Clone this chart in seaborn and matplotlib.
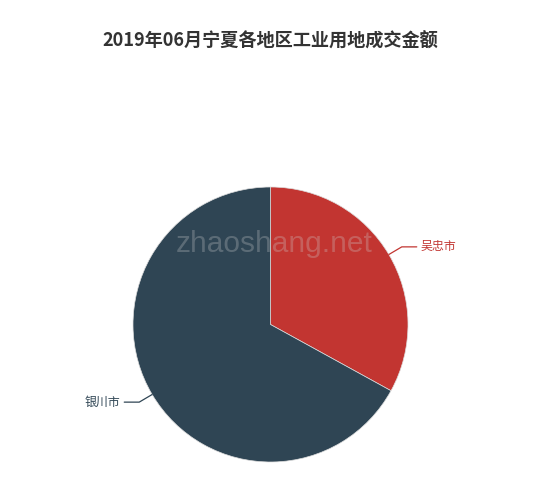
import numpy as np
import matplotlib
matplotlib.use('Agg')
import matplotlib.pyplot as plt
import seaborn as sns

sns.set_theme(style='white')
plt.rcParams['font.family'] = ['Noto Sans CJK SC', 'DejaVu Sans']

title = '2019年06月宁夏各地区工业用地成交金额'
regions = ['吴忠市', '银川市']
amounts = [33.0, 67.0]
colors = ['#c23531', '#2f4554']

W, H = 550, 490
fig = plt.figure(figsize=(5.5, 4.9), dpi=100)
ax = fig.add_axes([0, 0, 1, 1])

cx, cy, r = 270.5, H - 324.5, 137.5
wedges, _ = ax.pie(amounts, colors=colors, startangle=90, counterclock=False,
                   center=(cx, cy), radius=r, frame=True,
                   wedgeprops=dict(edgecolor='#dddddd', linewidth=0.5))
ax.set_xlim(0, W)
ax.set_ylim(0, H)
ax.set_aspect('equal')
ax.set_axis_off()

# label guide lines
for w, name, c in zip(wedges, regions, colors):
    mid = np.deg2rad((w.theta1 + w.theta2) / 2)
    x0, y0 = cx + r * np.cos(mid), cy + r * np.sin(mid)
    x1, y1 = cx + (r + 15) * np.cos(mid), cy + (r + 15) * np.sin(mid)
    side = 1 if np.cos(mid) >= 0 else -1
    x2 = x1 + side * 15
    ax.plot([x0, x1, x2], [y0, y1, y1], color=c, lw=0.9)
    ax.text(x2 + side * 4, y1, name, color=c, fontsize=8.6,
            ha='left' if side > 0 else 'right', va='center')

ax.text(W / 2 - 4.5, H - 41, title, fontsize=13.1, fontweight='bold',
        color='#333333', ha='center', va='center')

# watermark
ax.text(274, H - 252, 'zhaoshang.net', fontsize=21.5, color='#d0d0d0',
        alpha=0.28, ha='center', va='baseline',
        family=['Liberation Sans', 'DejaVu Sans'])

fig.savefig('out.png', dpi=100)
